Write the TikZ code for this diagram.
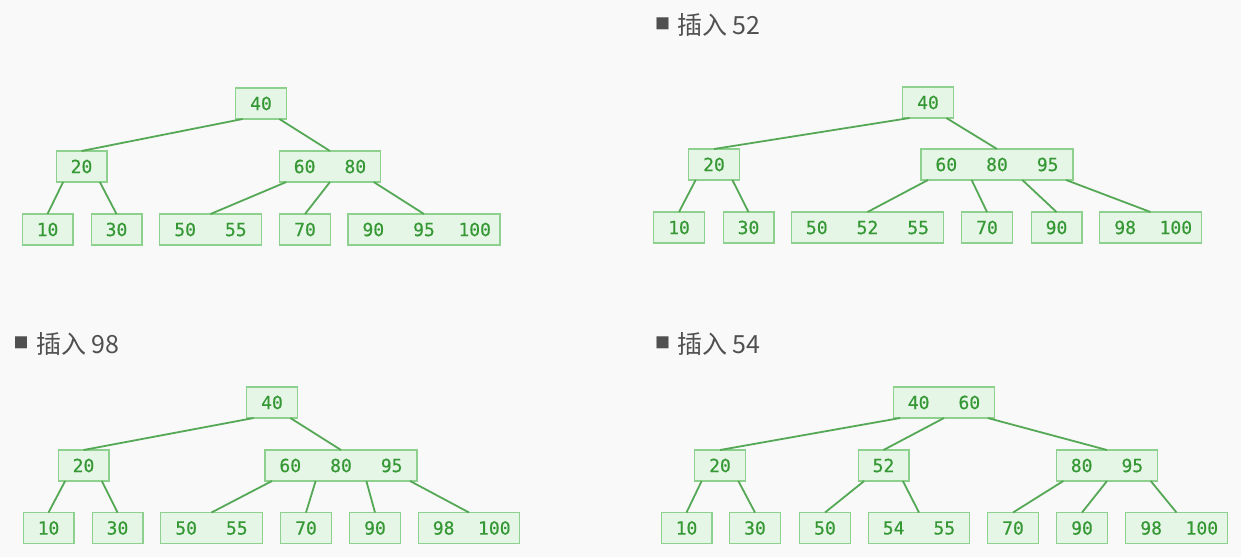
\documentclass[tikz,border=0pt]{standalone}
\usepackage{fontspec}
\newfontfamily\keyfont[FakeBold=0.5]{DejaVu Sans Mono}
\newfontfamily\cjk{Noto Sans CJK SC}
\definecolor{bgcol}{HTML}{F9F9F9}
\definecolor{boxfill}{HTML}{E6F6E6}
\definecolor{boxline}{HTML}{8ED08E}
\definecolor{keytext}{HTML}{359835}
\definecolor{edgecol}{HTML}{55A855}
\definecolor{titlecol}{HTML}{505050}
\newcommand\bk[1]{\makebox[50.7pt]{#1}}
\tikzset{
  bnode/.style={draw=boxline, fill=boxfill, line width=1.3pt, inner sep=0pt, outer sep=0pt,
    minimum height=31pt, text=keytext, font=\keyfont\fontsize{18}{18}\selectfont},
  edge/.style={draw=edgecol, line width=1.8pt},
  bulletmark/.style={inner sep=0pt, text=titlecol, font=\cjk\fontsize{15}{15}\selectfont},
  titletext/.style={inner sep=0pt, anchor=west, text=titlecol, font=\cjk\fontsize{25}{25}\selectfont}
}
\begin{document}
\begin{tikzpicture}[x=1pt,y=-1pt]
\fill[bgcol] (0,0) rectangle (1241,557);
\useasboundingbox (0,0) rectangle (1241,557);

% ---------- titles ----------
\node[bulletmark] (s1) at (662.5,24) {■};
\node[titletext] (t1) at (677,25) {插入 52};
\node[bulletmark] (s2) at (21,343) {■};
\node[titletext] (t2) at (36,344) {插入 98};
\node[bulletmark] (s3) at (662.5,343) {■};
\node[titletext] (t3) at (677,344) {插入 54};

% ---------- top-left tree ----------
\node[bnode] (a40) at (261,103.5) {\bk{40}};
\node[bnode] (a20) at (81.5,166.5) {\bk{20}};
\node[bnode] (a6080) at (330,166.5) {\bk{60}\bk{80}};
\node[bnode] (a10) at (47.5,229.5) {\bk{10}};
\node[bnode] (a30) at (116.5,229.5) {\bk{30}};
\node[bnode] (a5055) at (210.5,229.5) {\bk{50}\bk{55}};
\node[bnode] (a70) at (305,229.5) {\bk{70}};
\node[bnode] (a9095100) at (424,229.5) {\bk{90}\bk{95}\bk{100}};
\draw[edge] ([xshift=7pt]a40.south west) -- (a20.north);
\draw[edge] ([xshift=-7pt]a40.south east) -- (a6080.north);
\draw[edge] ([xshift=7pt]a20.south west) -- (a10.north);
\draw[edge] ([xshift=-7pt]a20.south east) -- (a30.north);
\draw[edge] ([xshift=7pt]a6080.south west) -- (a5055.north);
\draw[edge] ([xshift=50.7pt]a6080.south west) -- (a70.north);
\draw[edge] ([xshift=-7pt]a6080.south east) -- (a9095100.north);

% ---------- top-right tree ----------
\node[bnode] (b40) at (928,102.5) {\bk{40}};
\node[bnode] (b20) at (714,164.5) {\bk{20}};
\node[bnode] (b608095) at (997,164.5) {\bk{60}\bk{80}\bk{95}};
\node[bnode] (b10) at (679,227.5) {\bk{10}};
\node[bnode] (b30) at (748.5,227.5) {\bk{30}};
\node[bnode] (b505255) at (867.5,227.5) {\bk{50}\bk{52}\bk{55}};
\node[bnode] (b70) at (987,227.5) {\bk{70}};
\node[bnode] (b90) at (1056.5,227.5) {\bk{90}};
\node[bnode] (b98100) at (1150.5,227.5) {\bk{98}\bk{100}};
\draw[edge] ([xshift=7pt]b40.south west) -- (b20.north);
\draw[edge] ([xshift=-7pt]b40.south east) -- (b608095.north);
\draw[edge] ([xshift=7pt]b20.south west) -- (b10.north);
\draw[edge] ([xshift=-7pt]b20.south east) -- (b30.north);
\draw[edge] ([xshift=7pt]b608095.south west) -- (b505255.north);
\draw[edge] ([xshift=50.7pt]b608095.south west) -- (b70.north);
\draw[edge] ([xshift=101.4pt]b608095.south west) -- (b90.north);
\draw[edge] ([xshift=-7pt]b608095.south east) -- (b98100.north);

% ---------- bottom-left tree ----------
\node[bnode] (c40) at (272,402.5) {\bk{40}};
\node[bnode] (c20) at (83.5,465.5) {\bk{20}};
\node[bnode] (c608095) at (341,465.5) {\bk{60}\bk{80}\bk{95}};
\node[bnode] (c10) at (48.5,528) {\bk{10}};
\node[bnode] (c30) at (117.5,528) {\bk{30}};
\node[bnode] (c5055) at (211.5,528) {\bk{50}\bk{55}};
\node[bnode] (c70) at (306,528) {\bk{70}};
\node[bnode] (c90) at (375,528) {\bk{90}};
\node[bnode] (c98100) at (469,528) {\bk{98}\bk{100}};
\draw[edge] ([xshift=7pt]c40.south west) -- (c20.north);
\draw[edge] ([xshift=-7pt]c40.south east) -- (c608095.north);
\draw[edge] ([xshift=7pt]c20.south west) -- (c10.north);
\draw[edge] ([xshift=-7pt]c20.south east) -- (c30.north);
\draw[edge] ([xshift=7pt]c608095.south west) -- (c5055.north);
\draw[edge] ([xshift=50.7pt]c608095.south west) -- (c70.north);
\draw[edge] ([xshift=101.4pt]c608095.south west) -- (c90.north);
\draw[edge] ([xshift=-7pt]c608095.south east) -- (c98100.north);

% ---------- bottom-right tree ----------
\node[bnode] (d4060) at (944,402.5) {\bk{40}\bk{60}};
\node[bnode] (d20) at (720,465.5) {\bk{20}};
\node[bnode] (d52) at (883.5,465.5) {\bk{52}};
\node[bnode] (d8095) at (1107,465.5) {\bk{80}\bk{95}};
\node[bnode] (d10) at (686.5,528) {\bk{10}};
\node[bnode] (d30) at (755,528) {\bk{30}};
\node[bnode] (d50) at (825,528) {\bk{50}};
\node[bnode] (d5455) at (919,528) {\bk{54}\bk{55}};
\node[bnode] (d70) at (1013,528) {\bk{70}};
\node[bnode] (d90) at (1082,528) {\bk{90}};
\node[bnode] (d98100) at (1176.5,528) {\bk{98}\bk{100}};
\draw[edge] ([xshift=7pt]d4060.south west) -- (d20.north);
\draw[edge] ([xshift=50.7pt]d4060.south west) -- (d52.north);
\draw[edge] ([xshift=-7pt]d4060.south east) -- (d8095.north);
\draw[edge] ([xshift=7pt]d20.south west) -- (d10.north);
\draw[edge] ([xshift=-7pt]d20.south east) -- (d30.north);
\draw[edge] ([xshift=6pt]d52.south west) -- (d50.north);
\draw[edge] ([xshift=-6pt]d52.south east) -- (d5455.north);
\draw[edge] ([xshift=7pt]d8095.south west) -- (d70.north);
\draw[edge] ([xshift=50.7pt]d8095.south west) -- (d90.north);
\draw[edge] ([xshift=-7pt]d8095.south east) -- (d98100.north);
\end{tikzpicture}
\end{document}
